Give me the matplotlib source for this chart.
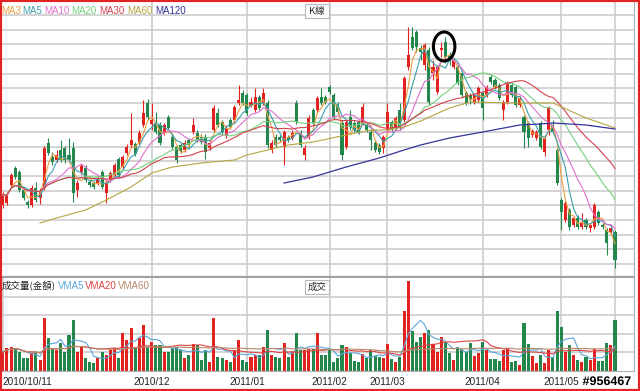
import numpy as np
import pandas as pd
import matplotlib
matplotlib.use('Agg')
from matplotlib import pyplot as plt
from matplotlib.patches import Rectangle, Ellipse
import matplotlib.patheffects as pe

# daily candles (price units, no axis labels in the original)
opens = [75, 77, 95, 112, 108, 90, 78, 75, 92, 82,
         92, 137, 123, 120, 130, 132, 125, 132, 90, 108,
         112, 98, 97, 97, 108, 87, 100, 105, 121, 113,
         127, 135, 136, 138, 155, 177, 156, 157, 155, 147,
         163, 143, 133, 135, 130, 140, 148, 147, 143, 143,
         132, 150, 167, 158, 144, 160, 160, 177, 187, 185,
         175, 170, 183, 177, 177, 130, 143, 143, 133, 143,
         142, 177, 147, 125, 143, 170, 170, 183, 183, 193,
         185, 175, 157, 133, 163, 157, 158, 157, 155, 148,
         137, 135, 132, 150, 158, 152, 170, 160, 213, 243,
         248, 232, 215, 230, 207, 188, 230, 238, 225, 213,
         213, 207, 187, 185, 178, 180, 187, 185, 203, 200,
         195, 170, 178, 195, 193, 175, 163, 157, 145, 142,
         157, 128, 150, 155, 130, 80, 60, 70, 55, 62,
         53, 60, 52, 53, 68, 55, 50, 48, 48]
highs = [88, 88, 107, 114, 110, 92, 80, 95, 98, 92,
         134, 142, 128, 130, 140, 134, 142, 138, 100, 116,
         115, 101, 99, 105, 110, 100, 109, 117, 123, 125,
         136, 167, 138, 150, 180, 181, 177, 168, 158, 157,
         165, 146, 135, 137, 140, 142, 162, 150, 146, 146,
         140, 175, 172, 160, 155, 162, 175, 195, 190, 187,
         183, 192, 185, 192, 180, 140, 146, 145, 150, 145,
         150, 180, 150, 135, 165, 172, 184, 192, 185, 195,
         187, 178, 160, 160, 170, 159, 160, 177, 157, 150,
         140, 137, 145, 177, 160, 164, 177, 204, 253, 253,
         250, 235, 237, 233, 220, 215, 238, 243, 228, 222,
         215, 209, 189, 187, 187, 194, 189, 195, 205, 202,
         197, 180, 199, 197, 195, 184, 165, 159, 151, 150,
         159, 144, 174, 160, 132, 82, 79, 72, 64, 65,
         67, 62, 57, 77, 70, 57, 52, 55, 50]
lows = [72, 75, 93, 101, 88, 80, 72, 73, 78, 76,
        90, 125, 115, 118, 118, 117, 118, 78, 83, 106,
        98, 93, 91, 95, 91, 77, 98, 103, 103, 111,
        125, 133, 124, 136, 153, 160, 150, 146, 135, 145,
        150, 131, 117, 127, 128, 133, 146, 138, 136, 121,
        130, 148, 153, 146, 142, 151, 158, 175, 175, 165,
        173, 168, 170, 175, 132, 127, 133, 138, 115, 138,
        140, 156, 133, 120, 141, 155, 168, 175, 176, 186,
        161, 166, 120, 131, 150, 148, 146, 155, 148, 130,
        128, 126, 127, 148, 148, 150, 150, 158, 210, 230,
        228, 220, 210, 175, 200, 186, 223, 217, 215, 211,
        195, 183, 175, 176, 176, 178, 160, 183, 196, 191,
        180, 160, 176, 183, 173, 173, 132, 133, 143, 140,
        131, 124, 145, 146, 95, 50, 58, 50, 53, 51,
        51, 51, 48, 51, 55, 51, 25, 45, 12]
closes = [85, 85, 105, 103, 90, 82, 75, 92, 80, 88,
          132, 127, 118, 125, 120, 120, 120, 87, 97, 114,
          100, 95, 93, 102, 93, 98, 107, 115, 105, 123,
          133, 140, 126, 147, 167, 163, 160, 148, 137, 155,
          152, 133, 120, 129, 137, 135, 155, 140, 138, 128,
          137, 172, 155, 148, 152, 153, 173, 180, 177, 167,
          178, 183, 172, 187, 135, 137, 135, 140, 148, 140,
          147, 158, 135, 132, 162, 157, 182, 177, 178, 188,
          163, 168, 125, 158, 153, 150, 148, 173, 150, 140,
          130, 128, 143, 168, 150, 162, 152, 202, 225, 232,
          233, 228, 235, 178, 213, 213, 232, 223, 220, 220,
          197, 185, 177, 180, 185, 192, 172, 193, 198, 193,
          182, 178, 197, 185, 175, 182, 148, 142, 149, 148,
          133, 142, 172, 148, 97, 68, 77, 53, 62, 53,
          58, 53, 55, 75, 57, 53, 37, 52, 20]
volumes = [19, 23, 24, 23, 19, 13, 13, 18, 18, 11,
           53, 33, 23, 21, 28, 19, 36, 51, 19, 24,
           13, 9, 8, 13, 19, 16, 21, 23, 13, 38,
           31, 43, 24, 33, 46, 24, 29, 26, 26, 19,
           19, 23, 24, 21, 13, 16, 27, 26, 11, 21,
           9, 53, 14, 13, 11, 9, 21, 31, 11, 9,
           14, 16, 16, 24, 41, 16, 14, 13, 28, 14,
           19, 38, 21, 21, 22, 22, 38, 16, 16, 21,
           9, 13, 26, 24, 18, 10, 9, 17, 13, 21,
           15, 14, 13, 27, 12, 9, 14, 60, 90, 40,
           29, 34, 38, 41, 27, 19, 34, 29, 18, 11,
           24, 22, 19, 28, 15, 18, 29, 21, 12, 12,
           10, 21, 23, 9, 10, 6, 48, 27, 15, 8,
           16, 8, 21, 14, 60, 44, 19, 26, 16, 11,
           9, 14, 11, 22, 10, 10, 28, 26, 51]

# long averages (their history starts before the window)
ma60_idx = [9, 13, 20, 25, 31, 36, 41, 48, 56, 59, 64, 69, 75, 83, 89, 93, 97, 101, 108, 113, 125, 133, 141, 148]
ma60_val = [57, 62, 70, 80, 93, 107, 113, 117, 120, 125, 130, 135, 138, 145, 150, 150, 153, 159, 172, 178, 177, 177, 162, 152]
ma120_idx = [68, 75, 83, 91, 97, 101, 108, 116, 125, 130, 133, 141, 148]
ma120_val = [97, 103, 113, 122, 130, 135, 142, 148, 155, 156, 157, 155, 151]

month_idx = [0, 36, 59, 79, 93, 116, 135]
month_labels = ['2010/10/11', '2010/12', '2011/01', '2011/02', '2011/03', '2011/04', '2011/05']
last_idx = 148
circled = 106

ma_names = ['MA3', 'MA5', 'MA10', 'MA20', 'MA30', 'MA60', 'MA120']
ma_colors = ['#f0a040', '#3c9fae', '#e070cc', '#74d07c', '#d2424e', '#b5a640', '#34349a']
vma_names = ['VMA5', 'VMA20', 'VMA60']
vma_colors = ['#5aa6d8', '#e04444', '#b8876a']

RED = '#e2221e'
GREEN = '#23874c'
GRID = '#cdcdcd'
EDGE = '#b0b0b0'
W, H = 640, 391


def fx(px):
    return px / W


def fy(py):
    return 1 - py / H


df = pd.DataFrame({'open': opens, 'high': highs, 'low': lows, 'close': closes, 'vol': volumes})
idx = np.arange(len(df))
colors = np.where(df['close'] >= df['open'], RED, GREEN)

fig = plt.figure(figsize=(6.4, 3.91), dpi=100)
ax = fig.add_axes([fx(2), fy(277), fx(634) - fx(2), fy(2) - fy(277)])
axv = fig.add_axes([fx(2), fy(371), fx(634) - fx(2), fy(278) - fy(371)])

# candles
ax.vlines(idx, df['low'], df['high'], colors=colors, lw=0.8, zorder=2)
body = (df['close'] - df['open']).abs().clip(lower=1.2)
ax.bar(idx, body, bottom=df[['open', 'close']].min(axis=1), width=0.74, color=colors, lw=0, zorder=2)

for n, c in zip([3, 5, 10, 20, 30], ma_colors[:5]):
    ax.plot(idx, df['close'].rolling(n, min_periods=1).mean(), color=c, lw=0.8, zorder=3)
ax.plot(ma60_idx, ma60_val, color=ma_colors[5], lw=0.8, zorder=3)
ax.plot(ma120_idx, ma120_val, color=ma_colors[6], lw=0.9, zorder=3)

ax.add_patch(Ellipse((circled + 0.7, (df['high'][circled] + df['low'][circled]) / 2 + 3), 5.2, 29,
                     fill=False, ec='black', lw=2.2, zorder=5))

# volume
axv.bar(idx, df['vol'], width=0.74, color=colors, lw=0, zorder=2)
for n, c in zip([5, 20, 60], vma_colors):
    axv.plot(idx, df['vol'].rolling(n, min_periods=1).mean(), color=c, lw=0.8, zorder=3)

for a in (ax, axv):
    a.set_xlim(-0.2, 152.6)
    a.set_axisbelow(True)
    a.grid(True, color=GRID, lw=1.2)
    a.tick_params(length=0, labelleft=False)
    for s in a.spines.values():
        s.set_color(EDGE)
    a.spines['left'].set_visible(False)

ax.set_ylim(3, 278)
ax.set_yticks(np.linspace(16, 265, 18))
ax.set_xticks(month_idx[1:] + [last_idx])
ax.tick_params(labelbottom=False)
ax.spines['top'].set_visible(False)
ax.spines['bottom'].set_linewidth(1.6)
ax.spines['bottom'].set_color('#a0a0a0')

axv.set_ylim(0, 93)
axv.set_yticks([19, 37.5, 56, 74.5])
axv.set_xticks(month_idx + [last_idx])
axv.set_xticklabels(month_labels + [''], fontsize=7.2, family='Liberation Sans', color='#222222')
axv.get_xticklabels()[0].set_ha('left')
axv.tick_params(axis='x', pad=4)
axv.spines['top'].set_visible(False)

# legend rows
ma_x = [1, 22, 44, 71, 99, 127, 155]
for name, c, x in zip(ma_names, ma_colors, ma_x):
    fig.text(fx(x), fy(11), name, color=c, fontsize=7, family='Liberation Sans', va='center')

fig.text(fx(2), fy(286), '成交量(金額)', color='#222222', fontsize=6.8,
         family=['Noto Sans CJK TC', 'DejaVu Sans'], va='center')
for name, c, x in zip(vma_names, vma_colors, [58, 85, 118]):
    fig.text(fx(x), fy(286), name, color=c, fontsize=7, family='Liberation Sans', va='center')

for label, top in [('K線', 4), ('成交', 280)]:
    fig.patches.append(Rectangle((fx(305), fy(top + 14)), fx(24), 14 / H, transform=fig.transFigure,
                                 fc='white', ec='#b8b8b8', lw=0.8))
    fig.text(fx(317), fy(top + 7), label, fontsize=6.8, family=['Noto Sans CJK TC', 'DejaVu Sans'],
             ha='center', va='center', color='#222222')

fig.text(fx(607), fy(382), '#956467', fontsize=9, fontweight='bold', family='Liberation Sans',
         ha='center', va='center', color='black',
         path_effects=[pe.withStroke(linewidth=2, foreground='white')])

fig.patches.append(Rectangle((0, 0), 1, 1, transform=fig.transFigure, fill=False, ec='#e02424', lw=3))

fig.savefig('out.png', dpi=100)
